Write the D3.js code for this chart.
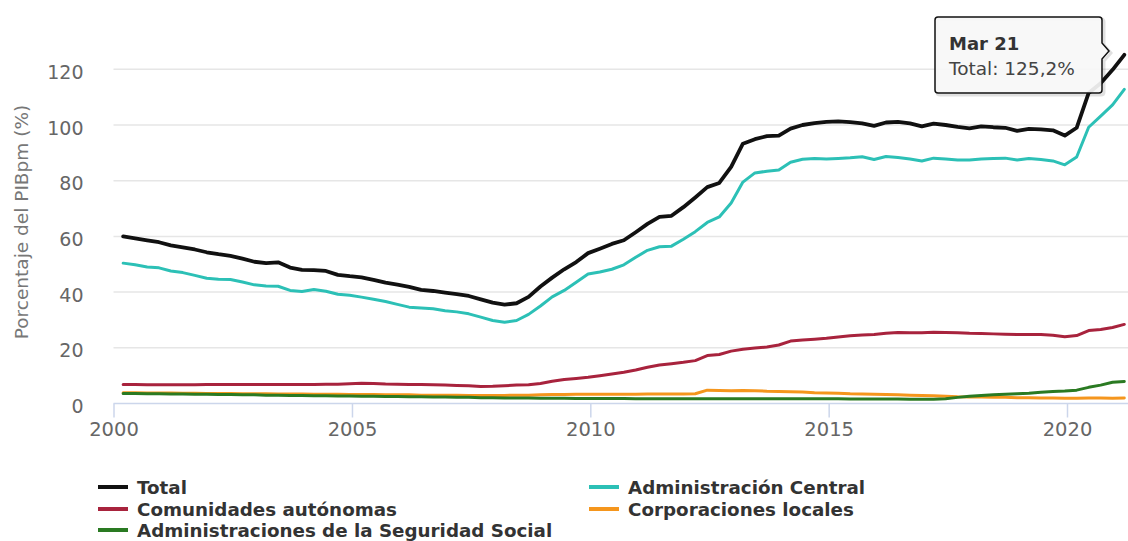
<!DOCTYPE html>
<html><head><meta charset="utf-8">
<script src="https://cdn.jsdelivr.net/npm/d3@7"></script>
<style>body{margin:0;background:#fff} svg{display:block;font-family:"DejaVu Sans",Verdana,sans-serif}</style>
</head><body><svg id="c" width="1128" height="541"></svg>
<script>
// ---- DATA (quarterly, Mar 2000 .. Mar 2021) ----
const firstQuarter = "2000-03";
const totalVals = [
 60.0,59.3,58.6,57.9, 56.8,56.1,55.3,54.3, 53.6,53.0,52.0,50.9, 50.4,50.7,48.8,48.0,
 47.9,47.6,46.2,45.7, 45.3,44.4,43.4,42.7, 41.9,40.8,40.4,39.8, 39.3,38.6,37.4,36.2,
 35.5,36.0,38.3,42.0, 45.2,48.2,50.8,54.0, 55.6,57.3,58.6,61.5, 64.5,67.0,67.4,70.5,
 74.0,77.7,79.2,85.0, 93.3,94.9,96.0,96.2, 98.7,100.0,100.7,101.1, 101.3,101.0,100.6,99.7,
 100.9,101.1,100.6,99.5, 100.5,100.0,99.3,98.8, 99.5,99.2,99.0,97.9, 98.6,98.4,98.1,96.2,
 99.0,111.5,115.0,119.8, 125.2];
const centralVals = [
 50.4,49.8,49.0,48.7, 47.6,47.0,46.0,45.0, 44.6,44.5,43.6,42.6, 42.2,42.1,40.6,40.2,
 40.9,40.3,39.2,38.9, 38.2,37.4,36.6,35.6, 34.6,34.3,34.0,33.3, 32.9,32.2,31.0,29.8,
 29.2,29.8,32.0,35.0, 38.3,40.6,43.5,46.5, 47.2,48.2,49.8,52.5, 55.0,56.3,56.5,59.0,
 61.7,65.0,67.0,72.0, 79.5,82.8,83.4,83.8, 86.6,87.7,88.0,87.8, 88.0,88.2,88.6,87.6,
 88.7,88.3,87.8,87.1, 88.1,87.8,87.4,87.4, 87.8,88.0,88.1,87.4, 88.0,87.6,87.1,85.7,
 88.5,99.2,103.2,107.2, 112.8];
const ccaaVals = [
 6.8,6.8,6.7,6.7, 6.7,6.7,6.7,6.8, 6.8,6.8,6.8,6.8, 6.8,6.8,6.8,6.8,
 6.8,6.9,6.9,7.1, 7.3,7.2,7.0,6.9, 6.8,6.8,6.7,6.6, 6.5,6.4,6.1,6.2,
 6.4,6.6,6.7,7.2, 8.0,8.6,9.0,9.4, 10.0,10.6,11.2,12.0, 13.0,13.8,14.3,14.8,
 15.4,17.2,17.6,18.8, 19.5,19.9,20.3,21.0, 22.4,22.8,23.1,23.4, 23.9,24.3,24.6,24.8,
 25.2,25.5,25.4,25.4, 25.6,25.5,25.4,25.2, 25.1,25.0,24.9,24.8, 24.8,24.8,24.5,24.0,
 24.4,26.2,26.6,27.3, 28.4];
const cclVals = [
 3.9,3.9,3.8,3.8, 3.8,3.7,3.7,3.6, 3.6,3.6,3.5,3.5, 3.5,3.4,3.4,3.4,
 3.3,3.3,3.3,3.2, 3.2,3.2,3.1,3.1, 3.1,3.0,3.0,3.0, 3.0,2.9,2.9,2.9,
 2.9,3.0,3.0,3.1, 3.2,3.2,3.3,3.3, 3.3,3.3,3.3,3.3, 3.4,3.4,3.4,3.4,
 3.5,4.8,4.7,4.6, 4.7,4.6,4.4,4.3, 4.2,4.1,3.9,3.8, 3.7,3.5,3.4,3.3,
 3.2,3.1,3.0,2.9, 2.8,2.6,2.4,2.3, 2.3,2.2,2.2,2.1, 2.1,2.0,2.0,1.9,
 1.9,2.0,2.0,1.9, 2.0];
const ssVals = [
 3.6,3.6,3.5,3.5, 3.4,3.4,3.3,3.3, 3.2,3.2,3.1,3.1, 3.0,3.0,2.9,2.9,
 2.8,2.8,2.7,2.7, 2.6,2.6,2.5,2.5, 2.4,2.4,2.3,2.3, 2.2,2.2,2.1,2.1,
 2.0,2.0,2.0,1.9, 1.9,1.9,1.8,1.8, 1.8,1.8,1.8,1.7, 1.7,1.7,1.7,1.7,
 1.7,1.7,1.7,1.7, 1.7,1.7,1.7,1.7, 1.7,1.7,1.7,1.7, 1.7,1.6,1.6,1.6,
 1.6,1.6,1.5,1.5, 1.5,1.7,2.2,2.6, 2.9,3.1,3.3,3.5, 3.7,4.0,4.3,4.5,
 4.8,5.8,6.6,7.6, 7.9];
const seriesNames = ["Total","Administración Central","Comunidades autónomas","Corporaciones locales","Administraciones de la Seguridad Social"];
const seriesColors = ["#111111","#2cc0b6","#a8233d","#f5961d","#2a7a22"];
const yTicks = [0,20,40,60,80,100,120];
const xTickYears = [2000,2005,2010,2015,2020];
const yAxisTitle = "Porcentaje del PIBpm (%)";
const tooltipTitle = "Mar 21";
const tooltipText = "Total: 125,2%";

// ---- CHART ----
const svg = d3.select("#c");
const plotLeft = 113.5, plotRight = 1128;
const x = d3.scaleTime().domain([new Date(2000,0,1), new Date(2020,0,1)]).range([plotLeft, 1067]);
const y = d3.scaleLinear().domain([0,120]).range([403.5, 69.3]);
const parseM = d3.timeParse("%Y-%m");
const dates = totalVals.map((_, i) => d3.timeDay.offset(d3.timeMonth.offset(parseM(firstQuarter), 3*i), 14));
const allSeries = [totalVals, centralVals, ccaaVals, cclVals, ssVals];
const FF = '"DejaVu Sans",Verdana,sans-serif';

// grid
svg.append("g").selectAll("line").data(yTicks.filter(t => t > 0)).join("line")
  .attr("x1", plotLeft).attr("x2", plotRight)
  .attr("y1", d => y(d)).attr("y2", d => y(d))
  .attr("stroke", "#e6e6e6").attr("stroke-width", 1.5);

// y axis labels
const ya = svg.append("g").attr("transform", `translate(${plotLeft},0)`)
  .call(d3.axisLeft(y).tickValues(yTicks).tickSize(0).tickPadding(30).tickFormat(d3.format("d")));
ya.select(".domain").remove();
ya.selectAll("text").attr("font-size", 19).attr("fill", "#666").attr("dy", "0.48em").attr("font-family", FF);

// y title
svg.append("text").attr("transform", "translate(28,222) rotate(-90)")
  .attr("text-anchor", "middle").attr("font-size", 18.5).attr("fill", "#777").text(yAxisTitle);

// x axis
const xa = svg.append("g").attr("transform", `translate(0,${y(0)})`)
  .call(d3.axisBottom(x).tickValues(xTickYears.map(v => new Date(v,0,1))).tickSize(14).tickSizeOuter(0).tickPadding(5).tickFormat(d3.timeFormat("%Y")));
xa.select(".domain").remove();
xa.selectAll(".tick line").attr("stroke", "#ccd6eb").attr("stroke-width", 1.5);
xa.selectAll("text").attr("font-size", 19.5).attr("fill", "#666").attr("font-family", FF);
svg.append("line").attr("x1", plotLeft).attr("x2", plotRight).attr("y1", y(0)).attr("y2", y(0))
  .attr("stroke", "#ccd6eb").attr("stroke-width", 1.5);

// lines
const line = d3.line().x((d, i) => x(dates[i])).y(d => y(d));
svg.append("g").selectAll("path").data(allSeries).join("path")
  .attr("d", d => line(d)).attr("fill", "none")
  .attr("stroke", (d, i) => seriesColors[i])
  .attr("stroke-width", (d, i) => i === 0 ? 3.8 : 3)
  .attr("stroke-linejoin", "round").attr("stroke-linecap", "round");

// legend
const legPos = [[98,487],[589,487],[98,509],[589,509],[98,530]];
const lg = svg.append("g").selectAll("g").data(seriesNames).join("g")
  .attr("transform", (d, i) => `translate(${legPos[i][0]},${legPos[i][1]})`);
lg.append("line").attr("x1", 0).attr("x2", 30).attr("y1", 0).attr("y2", 0)
  .attr("stroke", (d, i) => seriesColors[i]).attr("stroke-width", 4);
lg.append("text").attr("x", 39).attr("dy", "0.36em").attr("font-size", 18.3)
  .attr("font-weight", "bold").attr("fill", "#333").text(d => d);

// tooltip
const bx = 935, by = 17, bw = 167, bh = 76, r = 3;
const ay = by + 34;
const tipPath = `M${bx+r},${by} H${bx+bw-r} Q${bx+bw},${by} ${bx+bw},${by+r} V${ay-8} L${bx+bw+7},${ay} L${bx+bw},${ay+8} V${by+bh-r} Q${bx+bw},${by+bh} ${bx+bw-r},${by+bh} H${bx+r} Q${bx},${by+bh} ${bx},${by+bh-r} V${by+r} Q${bx},${by} ${bx+r},${by} Z`;
const tip = svg.append("g");
tip.append("path").attr("d", tipPath).attr("transform", "translate(2,2)").attr("fill", "none")
  .attr("stroke", "#000").attr("stroke-opacity", 0.12).attr("stroke-width", 3);
tip.append("path").attr("d", tipPath).attr("fill", "#f7f7f7").attr("fill-opacity", 0.92)
  .attr("stroke", seriesColors[0]).attr("stroke-width", 1.5);
tip.append("text").attr("x", bx+14).attr("y", by+33).attr("font-size", 18).attr("font-weight", "bold")
  .attr("fill", "#333").text(tooltipTitle);
tip.append("text").attr("x", bx+14).attr("y", by+58).attr("font-size", 18.5).attr("fill", "#444").text(tooltipText);
</script></body></html>
